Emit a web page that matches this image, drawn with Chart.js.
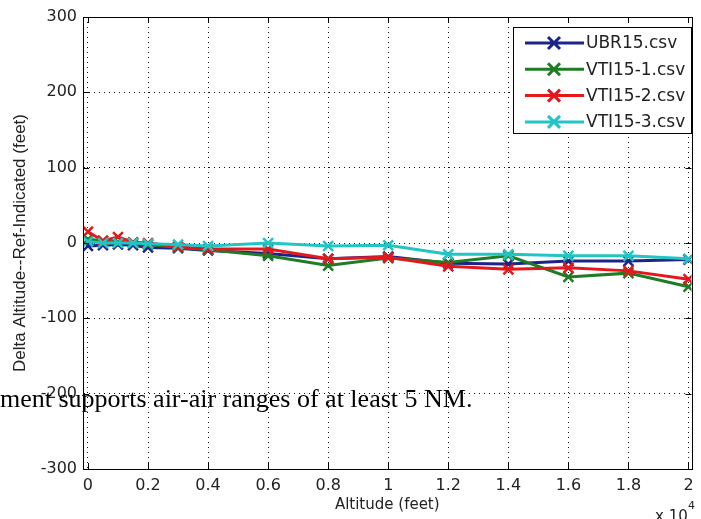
<!DOCTYPE html>
<html>
<head>
<meta charset="utf-8">
<script src="https://cdn.jsdelivr.net/npm/chart.js@4.4.1/dist/chart.umd.min.js"></script>
<style>
  html, body { margin: 0; padding: 0; background: #fff; }
  #wrap { position: relative; width: 701px; height: 519px; overflow: hidden; }
  #note { position: absolute; left: 0; top: 386px; font-family: "Liberation Serif", "Times New Roman", serif;
          font-size: 26px; line-height: 26px; white-space: nowrap; color: #000; }
</style>
</head>
<body>
<div id="wrap">
  <canvas id="chart" width="701" height="519"></canvas>
  <div id="note">ment supports air-air ranges of at least 5 NM.</div>
</div>
<script>
// altitude in feet
const altitudes = [0, 500, 1000, 1500, 2000, 3000, 4000, 6000, 8000, 10000, 12000, 14000, 16000, 18000, 20000];

// delta altitude (feet) per file
const ubr15  = [-4, -3, -2, -3, -6, -7, -10, -14, -21, -18, -27, -28, -24, -24, -22];
const vti15_1 = [5, 3, 1, 0, -2, -6, -9, -17, -30, -20, -26, -17, -45, -40, -58];
const vti15_2 = [15, 3, 8, 1, 0, -5, -8, -8, -21, -19, -31, -35, -33, -37, -48];
const vti15_3 = [2, 0, 0, 0, -1, -2, -4, 0, -4, -3, -15, -15, -17, -17, -21];

const seriesNames = ['UBR15.csv', 'VTI15-1.csv', 'VTI15-2.csv', 'VTI15-3.csv'];

const xTickValues = [0, 2000, 4000, 6000, 8000, 10000, 12000, 14000, 16000, 18000, 20000];
const xTickLabels = ['0', '0.2', '0.4', '0.6', '0.8', '1', '1.2', '1.4', '1.6', '1.8', '2'];
const yTickValues = [-300, -200, -100, 0, 100, 200, 300];

const colors = ['#1c248a', '#1e7d24', '#e4181c', '#22c4c4'];

function pts(vals) {
  return altitudes.map((a, i) => ({ x: a, y: vals[i] }));
}

// matlab style box, inward ticks, legend and the x10^4 multiplier
const matlabBits = {
  id: 'matlabBits',
  afterDraw(chart) {
    const ctx = chart.ctx;
    const a = chart.chartArea;
    const xs = chart.scales.x, ys = chart.scales.y;
    ctx.save();
    ctx.strokeStyle = '#000';
    ctx.lineWidth = 1;
    ctx.strokeRect(Math.round(a.left) + 0.5, Math.round(a.top) + 0.5,
                   Math.round(a.right - a.left), Math.round(a.bottom - a.top));
    ctx.beginPath();
    xTickValues.forEach(v => {
      const px = Math.round(xs.getPixelForValue(v)) + 0.5;
      ctx.moveTo(px, a.bottom); ctx.lineTo(px, a.bottom - 6);
      ctx.moveTo(px, a.top); ctx.lineTo(px, a.top + 6);
    });
    yTickValues.forEach(v => {
      const py = Math.round(ys.getPixelForValue(v)) + 0.5;
      ctx.moveTo(a.left, py); ctx.lineTo(a.left + 6, py);
      ctx.moveTo(a.right, py); ctx.lineTo(a.right - 6, py);
    });
    ctx.stroke();

    // legend
    const lx = 513, ly = 27, lw = 178, lh = 106;
    ctx.fillStyle = '#fff';
    ctx.fillRect(lx, ly, lw, lh);
    ctx.strokeRect(lx + 0.5, ly + 0.5, lw, lh);
    ctx.font = '17px "DejaVu Sans"';
    ctx.textBaseline = 'middle';
    chart.data.datasets.forEach((ds, i) => {
      const cy = 43 + i * 26.3;
      ctx.strokeStyle = ds.borderColor;
      ctx.lineWidth = 3;
      ctx.beginPath();
      ctx.moveTo(525, cy); ctx.lineTo(584, cy);
      ctx.moveTo(548, cy - 6); ctx.lineTo(560, cy + 6);
      ctx.moveTo(560, cy - 6); ctx.lineTo(548, cy + 6);
      ctx.stroke();
      ctx.fillStyle = '#222';
      ctx.fillText(ds.label, 586, cy + 1);
    });

    // x 10^4
    ctx.fillStyle = '#222';
    ctx.textBaseline = 'alphabetic';
    ctx.font = '15px "DejaVu Sans"';
    ctx.fillText('x 10', 655, 521);
    ctx.font = '11px "DejaVu Sans"';
    ctx.fillText('4', 688, 509);
    ctx.restore();
  }
};

Chart.defaults.font.family = '"DejaVu Sans", sans-serif';
Chart.defaults.color = '#222';

const datasets = [ubr15, vti15_1, vti15_2, vti15_3].map((vals, i) => ({
  label: seriesNames[i],
  data: pts(vals),
  borderColor: colors[i],
  backgroundColor: colors[i],
  borderWidth: 3,
  pointStyle: 'crossRot',
  pointRadius: 7,
  pointBorderWidth: 2.5,
  pointBorderColor: colors[i],
  fill: false,
  tension: 0,
  order: 4 - i
}));

new Chart(document.getElementById('chart'), {
  type: 'line',
  data: { datasets: datasets },
  options: {
    responsive: false,
    animation: false,
    devicePixelRatio: 1,
    layout: { padding: { left: 0, right: 6, top: 17, bottom: 0 } },
    plugins: { legend: { display: false }, tooltip: { enabled: false } },
    scales: {
      x: {
        type: 'linear',
        min: -165,
        max: 20100,
        afterFit: s => { s.height = 50; },
        afterBuildTicks: s => { s.ticks = xTickValues.map(v => ({ value: v })); },
        grid: { color: '#111', lineWidth: 1, drawTicks: false },
        border: { display: true, color: '#000', dash: [1, 4] },
        ticks: {
          font: { size: 16 },
          padding: 7,
          maxRotation: 0,
          autoSkip: false,
          callback: (v) => xTickLabels[xTickValues.indexOf(v)]
        },
        title: { display: true, text: 'Altitude (feet)', font: { size: 15 }, padding: { top: 0, bottom: 5 } }
      },
      y: {
        min: -300,
        max: 300,
        afterFit: s => { s.width = 83; },
        afterBuildTicks: s => { s.ticks = yTickValues.map(v => ({ value: v })); },
        grid: { color: '#111', lineWidth: 1, drawTicks: false },
        border: { display: true, color: '#000', dash: [1, 4] },
        ticks: { font: { size: 16 }, padding: 6 },
        title: {
          display: true,
          text: 'Delta Altitude--Ref-Indicated (feet)',
          font: { family: '"Liberation Sans", Arial, sans-serif', size: 17 },
          padding: { top: 10, bottom: 0 }
        }
      }
    }
  },
  plugins: [matlabBits]
});
</script>
</body>
</html>
